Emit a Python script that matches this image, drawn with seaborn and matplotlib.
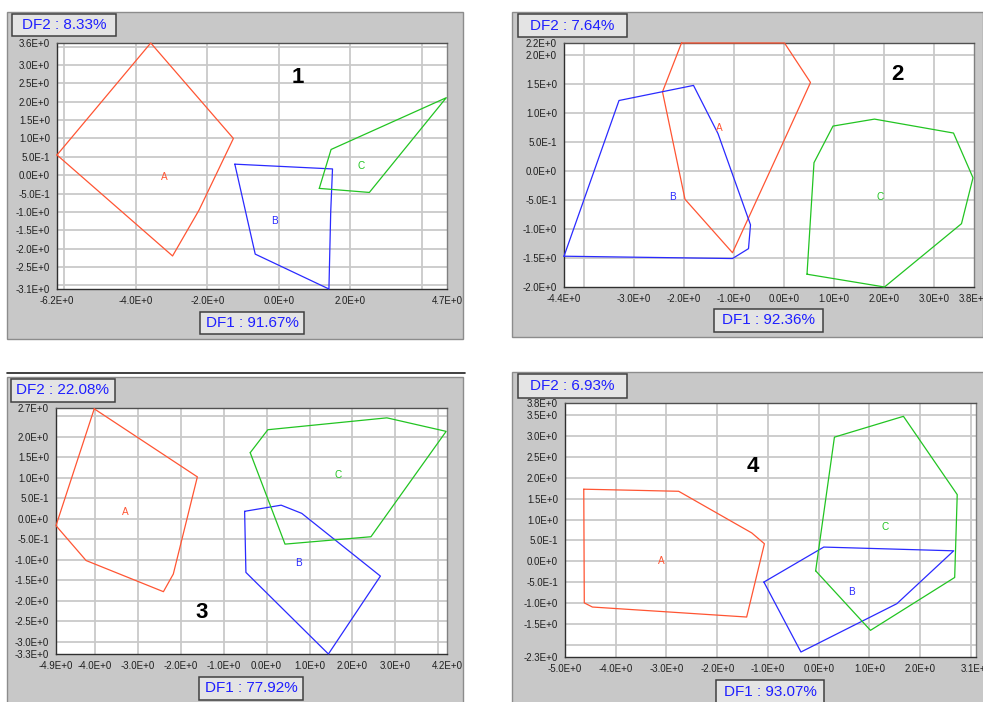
import math
import matplotlib
matplotlib.use("Agg")
import matplotlib.pyplot as plt
import numpy as np
import pandas as pd
import seaborn as sns
from matplotlib.patches import Rectangle
from matplotlib.lines import Line2D

sns.set_style("white")
plt.rcParams["font.family"] = ["Liberation Sans", "DejaVu Sans"]

# ---------------- data ----------------
groups = ["A", "B", "C"]
palette = {"A": "#ff5533", "B": "#2a2aff", "C": "#22c422"}

# Panel 1
p1_A_x = [-6.2, -3.58, -1.27, -2.23, -2.97]
p1_A_y = [0.55, 3.60, 1.00, -0.95, -2.20]
p1_B_x = [-1.23, 1.50, 1.45, 1.40, -0.66]
p1_B_y = [0.30, 0.17, -1.00, -3.10, -2.15]
p1_C_x = [1.13, 1.46, 4.68, 2.53]
p1_C_y = [-0.36, 0.70, 2.11, -0.47]
p1_lab_x = [-3.20, -0.11, 2.30]
p1_lab_y = [-0.04, -1.24, 0.26]
p1_xticks = [-6.2, -6.0, -4.0, -2.0, 0.0, 2.0, 4.0, 4.7]
p1_xblank = [-6.0, 4.0]
p1_yticks = [-3.1, -3.0, -2.5, -2.0, -1.5, -1.0, -0.5, 0.0, 0.5, 1.0, 1.5, 2.0, 2.5, 3.0, 3.5, 3.6]
p1_yblank = [-3.0, 3.5]
p1_df1 = "DF1 : 91.67%"
p1_df2 = "DF2 : 8.33%"
p1_num = ("1", 0.52, 2.66)

# Panel 2
p2_A_x = [-2.05, 0.01, 0.53, 0.00, -1.03, -1.98, -2.43]
p2_A_y = [2.20, 2.20, 1.52, 0.52, -1.41, -0.49, 1.36]
p2_B_x = [-4.40, -3.30, -1.81, -1.32, -0.67, -0.71, -1.03]
p2_B_y = [-1.47, 1.21, 1.47, 0.64, -0.93, -1.34, -1.51]
p2_C_x = [0.46, 0.60, 0.98, 1.81, 3.39, 3.78, 3.55, 2.01]
p2_C_y = [-1.78, 0.14, 0.77, 0.89, 0.65, -0.12, -0.91, -2.00]
p2_lab_x = [-1.29, -2.23, 1.93]
p2_lab_y = [0.73, -0.45, -0.45]
p2_xticks = [-4.4, -4.0, -3.0, -2.0, -1.0, 0.0, 1.0, 2.0, 3.0, 3.8]
p2_xblank = [-4.0]
p2_yticks = [-2.0, -1.5, -1.0, -0.5, 0.0, 0.5, 1.0, 1.5, 2.0, 2.2]
p2_yblank = []
p2_df1 = "DF1 : 92.36%"
p2_df2 = "DF2 : 7.64%"
p2_num = ("2", 2.26, 1.66)

# Panel 3
p3_A_x = [-4.01, -1.61, -2.17, -2.40, -4.20, -4.90]
p3_A_y = [2.68, 1.02, -1.35, -1.78, -1.02, -0.17]
p3_B_x = [-0.51, 0.34, 0.82, 2.65, 1.44, -0.48]
p3_B_y = [0.18, 0.33, 0.13, -1.40, -3.30, -1.31]
p3_C_x = [-0.38, 0.03, 2.80, 4.18, 2.43, 0.43]
p3_C_y = [1.61, 2.17, 2.46, 2.13, -0.44, -0.62]
p3_lab_x = [-3.29, 0.74, 1.66]
p3_lab_y = [0.17, -1.09, 1.06]
p3_xticks = [-4.9, -4.0, -3.0, -2.0, -1.0, 0.0, 1.0, 2.0, 3.0, 4.0, 4.2]
p3_xblank = [4.0]
p3_yticks = [-3.3, -3.0, -2.5, -2.0, -1.5, -1.0, -0.5, 0.0, 0.5, 1.0, 1.5, 2.0, 2.5, 2.7]
p3_yblank = [2.5]
p3_df1 = "DF1 : 77.92%"
p3_df2 = "DF2 : 22.08%"
p3_num = ("3", -1.52, -2.30)

# Panel 4
p4_A_x = [-4.63, -2.76, -1.32, -1.07, -1.42, -4.46, -4.62]
p4_A_y = [1.73, 1.68, 0.68, 0.42, -1.34, -1.10, -1.00]
p4_B_x = [-1.08, 0.10, 2.66, 1.54, -0.35]
p4_B_y = [-0.50, 0.34, 0.25, -1.02, -2.18]
p4_C_x = [-0.06, 0.31, 1.67, 2.73, 2.68, 1.02]
p4_C_y = [-0.23, 2.98, 3.48, 1.60, -0.39, -1.66]
p4_lab_x = [-3.11, 0.64, 1.30]
p4_lab_y = [0.01, -0.75, 0.82]
p4_xticks = [-5.0, -4.0, -3.0, -2.0, -1.0, 0.0, 1.0, 2.0, 3.0, 3.1]
p4_xblank = [3.0]
p4_yticks = [-2.3, -2.0, -1.5, -1.0, -0.5, 0.0, 0.5, 1.0, 1.5, 2.0, 2.5, 3.0, 3.5, 3.8]
p4_yblank = [-2.0]
p4_df1 = "DF1 : 93.07%"
p4_df2 = "DF2 : 6.93%"
p4_num = ("4", -1.29, 2.28)

# ---------------- layout (pixels) ----------------
W, H = 983, 702
panels = [
    dict(poly=[(p1_A_x, p1_A_y), (p1_B_x, p1_B_y), (p1_C_x, p1_C_y)], lx=p1_lab_x, ly=p1_lab_y,
         xt=p1_xticks, xb=p1_xblank, yt=p1_yticks, yb=p1_yblank, df1=p1_df1, df2=p1_df2, num=p1_num,
         bg=(7, 12, 463, 339), ax=(57, 43, 447, 289), box2=(12, 14, 116, 36), box1=(200, 312, 304, 334)),
    dict(poly=[(p2_A_x, p2_A_y), (p2_B_x, p2_B_y), (p2_C_x, p2_C_y)], lx=p2_lab_x, ly=p2_lab_y,
         xt=p2_xticks, xb=p2_xblank, yt=p2_yticks, yb=p2_yblank, df1=p2_df1, df2=p2_df2, num=p2_num,
         bg=(512, 12, 983, 337), ax=(564, 43, 974, 287), box2=(518, 14, 627, 37), box1=(714, 309, 823, 332)),
    dict(poly=[(p3_A_x, p3_A_y), (p3_B_x, p3_B_y), (p3_C_x, p3_C_y)], lx=p3_lab_x, ly=p3_lab_y,
         xt=p3_xticks, xb=p3_xblank, yt=p3_yticks, yb=p3_yblank, df1=p3_df1, df2=p3_df2, num=p3_num,
         bg=(7, 377, 463, 703), ax=(56, 408, 447, 654), box2=(11, 379, 115, 402), box1=(199, 677, 303, 700)),
    dict(poly=[(p4_A_x, p4_A_y), (p4_B_x, p4_B_y), (p4_C_x, p4_C_y)], lx=p4_lab_x, ly=p4_lab_y,
         xt=p4_xticks, xb=p4_xblank, yt=p4_yticks, yb=p4_yblank, df1=p4_df1, df2=p4_df2, num=p4_num,
         bg=(512, 372, 984, 703), ax=(565, 403, 976, 657), box2=(518, 374, 627, 398), box1=(716, 680, 824, 703)),
]


def fmt(v):
    if abs(v) < 1e-12:
        return "0.0E+0"
    e = int(math.floor(math.log10(abs(v)) + 1e-9))
    m = v / 10 ** e
    return f"{m:.1f}E{e:+d}"


def frect(x0, y0, x1, y1):
    return (x0 / W, 1 - y1 / H, (x1 - x0) / W, (y1 - y0) / H)


fig = plt.figure(figsize=(W / 100, H / 100), dpi=100)
fig.patch.set_facecolor("white")

# thin dark line above panel 3
fig.add_artist(Line2D([7 / W, 465 / W], [1 - 373 / H, 1 - 373 / H], color="#202020", lw=1.2))

for p in panels:
    bx = frect(*p["bg"])
    fig.add_artist(Rectangle((bx[0], bx[1]), bx[2], bx[3], transform=fig.transFigure,
                             facecolor="#c8c8c8", edgecolor="#8c8c8c", lw=1.0, zorder=0))
    ax = fig.add_axes(frect(*p["ax"]))
    ax.set_facecolor("white")
    ax.set_zorder(2)

    xt, yt = p["xt"], p["yt"]
    xmin, xmax = min(xt), max(xt)
    ymin, ymax = min(yt), max(yt)
    for g in xt:
        if xmin < g < xmax:
            ax.axvline(g, color="#c9c9c9", lw=1.3, zorder=0)
    for g in yt:
        if ymin < g < ymax:
            ax.axhline(g, color="#c9c9c9", lw=1.3, zorder=0)

    rows = []
    for g, (xs, ys) in zip(groups, p["poly"]):
        xs_c = list(xs) + [xs[0]]
        ys_c = list(ys) + [ys[0]]
        for i, (x, y) in enumerate(zip(xs_c, ys_c)):
            rows.append(dict(group=g, order=i, x=x, y=y))
    df = pd.DataFrame(rows)
    n_before = len(ax.lines)
    sns.lineplot(data=df, x="x", y="y", hue="group", palette=palette, sort=False,
                 estimator=None, units="group", legend=False, lw=0.9, ax=ax, zorder=3)
    for ln in ax.lines[n_before:]:
        ln.set_clip_on(False)

    for g, lx, ly in zip(groups, p["lx"], p["ly"]):
        ax.text(lx, ly, g, color=palette[g], fontsize=7.2, ha="center", va="center", zorder=4)

    num, nx, ny = p["num"]
    ax.text(nx, ny, num, fontsize=16, fontweight="bold", color="black", ha="center", va="center", zorder=4)

    ax.set_xlim(xmin, xmax)
    ax.set_ylim(ymin, ymax)
    ax.set_xticks(xt)
    ax.set_xticklabels(["" if v in p["xb"] else fmt(v) for v in xt])
    ax.set_yticks(yt)
    ax.set_yticklabels(["" if v in p["yb"] else fmt(v) for v in yt])
    ax.tick_params(axis="both", direction="out", length=3.5, width=0.8, color="#202020",
                   labelsize=7, labelcolor="#202020", pad=1.5)
    ax.set_xlabel("")
    ax.set_ylabel("")
    for s in ax.spines.values():
        s.set_color("#303030")
        s.set_linewidth(1.0)
    ax.spines["right"].set_color("#808080")
    ax.spines["top"].set_color("#505050")

    for (x0, y0, x1, y1), txt in ((p["box2"], p["df2"]), (p["box1"], p["df1"])):
        r = frect(x0, y0, x1, y1)
        fig.add_artist(Rectangle((r[0], r[1]), r[2], r[3], transform=fig.transFigure,
                                 facecolor="#e4e4e4", edgecolor="#404040", lw=1.1, zorder=5))
        fig.text(r[0] + r[2] / 2, r[1] + r[3] / 2, txt, color="#1f1fff", fontsize=11,
                 ha="center", va="center", zorder=6)

fig.savefig("out.png", dpi=100)
